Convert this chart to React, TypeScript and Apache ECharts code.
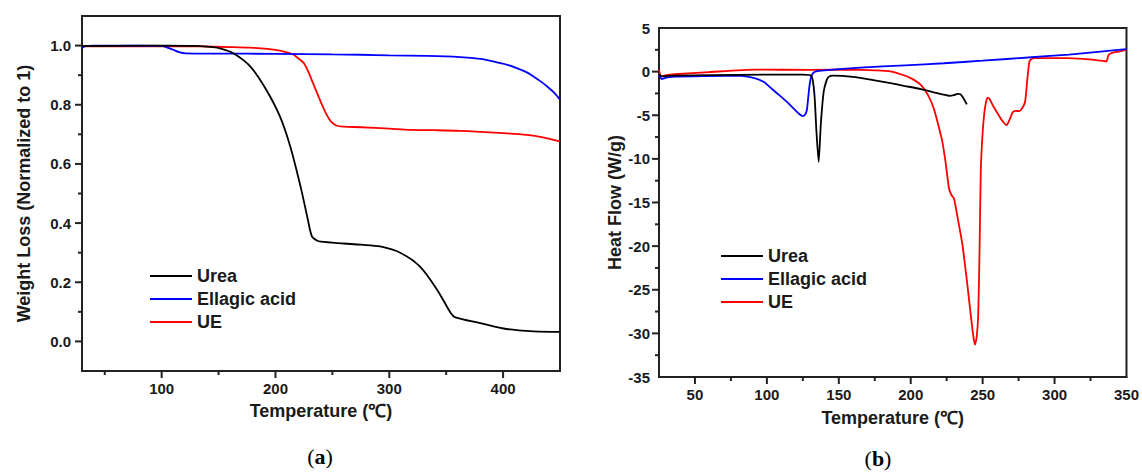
import React, { useEffect, useRef } from "react";
import * as echarts from "echarts";

// ---------- Panel (a): TGA ----------
const tgaUreaT = [30, 60, 100, 130, 145, 152, 163, 178, 192, 204, 213, 222, 228, 232, 236, 240, 260, 275, 292, 310, 327, 342, 354, 358, 380, 403, 427, 450];
const tgaUreaW = [0.998, 0.999, 1.0, 0.999, 0.995, 0.99, 0.974, 0.929, 0.85, 0.76, 0.659, 0.524, 0.42, 0.355, 0.342, 0.337, 0.331, 0.327, 0.321, 0.299, 0.253, 0.175, 0.096, 0.081, 0.062, 0.042, 0.034, 0.032];

const tgaEllagicT = [30, 33, 40, 100, 104, 110, 116, 121, 150, 200, 250, 275, 300, 333, 362, 380, 392, 403, 412, 420, 427, 433, 439, 445, 450];
const tgaEllagicW = [0.992, 0.998, 1.0, 0.999, 0.995, 0.986, 0.977, 0.974, 0.973, 0.972, 0.97, 0.969, 0.967, 0.965, 0.961, 0.955, 0.946, 0.936, 0.924, 0.911, 0.895, 0.879, 0.861, 0.84, 0.817];

const tgaUeT = [30, 100, 134, 160, 178, 193, 204, 210, 216, 220, 225, 229, 233, 236, 239, 242, 245, 249, 254, 260, 275, 300, 319, 340, 362, 392, 421, 435, 450];
const tgaUeW = [0.997, 0.998, 0.997, 0.995, 0.993, 0.989, 0.983, 0.977, 0.969, 0.957, 0.94, 0.91, 0.873, 0.845, 0.817, 0.79, 0.766, 0.742, 0.729, 0.726, 0.724, 0.719, 0.715, 0.714, 0.712, 0.706, 0.698, 0.69, 0.676];

const tgaXLabels = [100, 200, 300, 400];
const tgaXMajorTicks = [100, 200, 300, 400];
const tgaXMinorTicks = [50, 150, 250, 350];
const tgaYMajorTicks = [0, 0.2, 0.4, 0.6, 0.8, 1.0];
const tgaYMinorTicks = [0.1, 0.3, 0.5, 0.7, 0.9];

// ---------- Panel (b): DSC ----------
const dscUreaT = [25, 27, 35, 60, 100, 125, 131, 133, 134.5, 136, 137.5, 139.5, 141.5, 143, 146, 160, 173, 185, 196, 207, 216, 222, 227, 230, 232.5, 234.5, 236, 237.5, 239];
const dscUreaH = [-0.3, -0.55, -0.45, -0.4, -0.35, -0.35, -0.5, -2.5, -7, -10.35, -6, -2.3, -1, -0.6, -0.45, -0.6, -0.95, -1.3, -1.65, -2.0, -2.37, -2.6, -2.78, -2.7, -2.55, -2.6, -2.87, -3.3, -3.75];

const dscEllagicT = [25, 26.7, 30, 36, 60, 80, 92, 98, 103, 109, 115, 119, 122, 124.8, 126.5, 127.8, 128.6, 129.4, 130.3, 131.3, 133, 136, 165, 196, 223, 250, 284, 310, 332, 350];
const dscEllagicH = [-0.4, -0.84, -0.7, -0.57, -0.5, -0.46, -0.77, -1.2, -1.91, -2.75, -3.63, -4.3, -4.78, -5.09, -4.95, -4.4, -3.2, -1.91, -0.9, -0.38, -0.05, 0.08, 0.46, 0.72, 0.96, 1.25, 1.65, 1.95, 2.3, 2.57];

const dscUeT = [25, 26.5, 30, 36, 60, 92, 130, 162, 175, 185, 193, 200, 207, 212, 216, 219, 222, 224.5, 226.6, 228.5, 230.1, 233, 236, 239, 241.8, 243.5, 244.6, 245.8, 246.9, 247.8, 248.7, 249.8, 251, 252.2, 253.4, 255, 257.5, 260.4, 263.5, 266.7, 268.5, 270.9, 273, 275.5, 277.5, 279.5, 281, 282.5, 284, 286, 300, 309, 320, 330, 333.7, 336, 337.5, 340, 345, 350];
const dscUeH = [0.2, -0.57, -0.4, -0.3, -0.05, 0.23, 0.2, 0.23, 0.15, 0.05, -0.3, -0.75, -1.53, -2.7, -4.21, -6, -8.05, -10.7, -13.4, -14.2, -14.55, -17.1, -19.9, -23.9, -27.97, -30.3, -31.3, -30.5, -27.97, -21, -11.5, -7.5, -4.98, -3.6, -2.99, -3.2, -4.0, -4.78, -5.6, -6.13, -5.6, -4.67, -4.5, -4.52, -4.2, -3.45, -1.0, 1.15, 1.45, 1.54, 1.54, 1.54, 1.45, 1.3, 1.23, 1.15, 1.9, 2.15, 2.3, 2.49];

const dscXMajorTicks = [50, 100, 150, 200, 250, 300];
const dscXMinorTicks = [75, 125, 175, 225, 275, 325];
const dscYMajorTicks = [-30, -25, -20, -15, -10, -5, 0];
const dscYMinorTicks = [-32.5, -27.5, -22.5, -17.5, -12.5, -7.5, -2.5, 2.5];

const seriesNames = ["Urea", "Ellagic acid", "UE"];
const seriesColors = ["#000000", "#0000ff", "#ff0000"];

const TGA_X_RANGE = [30, 450];
const TGA_Y_RANGE = [-0.1, 1.1];
const DSC_X_RANGE = [25, 350];
const DSC_Y_RANGE = [-35, 5];

const zip = (xs: number[], ys: number[]) => xs.map((x, i) => [x, ys[i]]);

const FONT = "'Liberation Sans', Arial, Helvetica, sans-serif";
const SERIF = "'Liberation Serif', 'Times New Roman', serif";
const AXIS_COLOR = "#222222";
const TEXT_COLOR = "#1a1a1a";

export default function App() {
  const ref = useRef<HTMLDivElement>(null);

  useEffect(() => {
    if (!ref.current) return;
    const chart = echarts.init(ref.current, undefined, { renderer: "svg" });

    const axisLabelBase = () => ({
      color: TEXT_COLOR,
      fontFamily: FONT,
      fontWeight: "bold",
      fontSize: 15,
    });
    const nameStyle = () => ({
      color: TEXT_COLOR,
      fontFamily: FONT,
      fontWeight: "bold",
      fontSize: 18,
    });
    const axisLine = () => ({ show: true, onZero: false, lineStyle: { color: AXIS_COLOR, width: 2 } });

    const tgaData = [zip(tgaUreaT, tgaUreaW), zip(tgaEllagicT, tgaEllagicW), zip(tgaUeT, tgaUeW)];
    const dscData = [zip(dscUreaT, dscUreaH), zip(dscEllagicT, dscEllagicH), zip(dscUeT, dscUeH)];

    const mkSeries = (data: number[][][], idx: number, smooth: number) =>
      data.map((d, i) => ({
        type: "line",
        name: seriesNames[i],
        xAxisIndex: idx,
        yAxisIndex: idx,
        data: d,
        symbol: "none",
        showSymbol: false,
        smooth,
        lineStyle: { color: seriesColors[i], width: 1.8 },
        itemStyle: { color: seriesColors[i] },
        z: 3 - i,
      }));

    // Tick marks drawn through the axes' own scales (api.coord), pointing outward.
    const tickSeries = (idx: number, values: number[], dir: "x" | "y", anchor: number, len: number) => ({
      type: "custom",
      xAxisIndex: idx,
      yAxisIndex: idx,
      clip: false,
      silent: true,
      z: 10,
      encode: { x: 0, y: 1 },
      data: values.map((v) => (dir === "x" ? [v, anchor] : [anchor, v])),
      renderItem: (_params: any, api: any) => {
        const p = api.coord([api.value(0), api.value(1)]);
        const shape =
          dir === "x"
            ? { x1: p[0], y1: p[1], x2: p[0], y2: p[1] + len }
            : { x1: p[0], y1: p[1], x2: p[0] - len, y2: p[1] };
        return { type: "line", shape, style: { stroke: AXIS_COLOR, lineWidth: 2 } };
      },
    });

    const legendBase = () => ({
      orient: "vertical",
      icon: "rect",
      itemWidth: 42,
      itemHeight: 2,
      itemGap: 5,
      padding: 0,
      textStyle: { color: TEXT_COLOR, fontFamily: FONT, fontWeight: "bold", fontSize: 18 },
      data: seriesNames,
      selectedMode: false,
    });

    const caption = (letter: string, x: number, y: number) => ({
      type: "text",
      x,
      y,
      style: {
        text: `{p|(}{b|${letter}}{p|)}`,
        align: "center",
        verticalAlign: "middle",
        rich: {
          p: { fontFamily: SERIF, fontSize: 22, fill: "#000" },
          b: { fontFamily: SERIF, fontSize: 22, fontWeight: "bold", fill: "#000" },
        },
      },
    });

    chart.setOption({
      animation: false,
      grid: [
        { left: 82, top: 16, width: 478, height: 355, show: true, borderColor: AXIS_COLOR, borderWidth: 2 },
        { left: 659, top: 28, width: 469, height: 349, show: true, borderColor: AXIS_COLOR, borderWidth: 2 },
      ],
      xAxis: [
        {
          type: "value",
          gridIndex: 0,
          min: TGA_X_RANGE[0],
          max: TGA_X_RANGE[1],
          name: "Temperature (℃)",
          nameLocation: "middle",
          nameGap: 31,
          nameTextStyle: nameStyle(),
          axisLine: axisLine(),
          axisTick: { show: false },
          axisLabel: { ...axisLabelBase(), margin: 10, customValues: tgaXLabels },
          splitLine: { show: false },
        },
        {
          type: "value",
          gridIndex: 1,
          min: DSC_X_RANGE[0],
          max: DSC_X_RANGE[1],
          interval: 25,
          name: "Temperature (℃)",
          nameLocation: "middle",
          nameGap: 32,
          nameTextStyle: nameStyle(),
          axisLine: axisLine(),
          axisTick: { show: false },
          axisLabel: {
            ...axisLabelBase(),
            margin: 10,
            formatter: (v: number) => (Math.round(v) % 50 === 0 ? String(Math.round(v)) : ""),
          },
          splitLine: { show: false },
        },
      ],
      yAxis: [
        {
          type: "value",
          gridIndex: 0,
          min: TGA_Y_RANGE[0],
          max: TGA_Y_RANGE[1],
          interval: 0.1,
          name: "Weight Loss (Normalized to 1)",
          nameLocation: "middle",
          nameGap: 49,
          nameTextStyle: nameStyle(),
          axisLine: axisLine(),
          axisTick: { show: false },
          axisLabel: {
            ...axisLabelBase(),
            margin: 11,
            formatter: (v: number) => {
              const k = Math.round(v * 10);
              return k >= 0 && k <= 10 && k % 2 === 0 ? (k / 10).toFixed(1) : "";
            },
          },
          splitLine: { show: false },
        },
        {
          type: "value",
          gridIndex: 1,
          min: DSC_Y_RANGE[0],
          max: DSC_Y_RANGE[1],
          interval: 5,
          name: "Heat Flow (W/g)",
          nameLocation: "middle",
          nameGap: 34,
          nameTextStyle: nameStyle(),
          axisLine: axisLine(),
          axisTick: { show: false },
          axisLabel: { ...axisLabelBase(), margin: 9 },
          splitLine: { show: false },
        },
      ],
      legend: [
        { ...legendBase(), left: 150, top: 267 },
        { ...legendBase(), left: 721, top: 247 },
      ],
      series: [
        ...mkSeries(tgaData, 0, 0.3),
        ...mkSeries(dscData, 1, 0.2),
        tickSeries(0, tgaXMajorTicks, "x", TGA_Y_RANGE[0], 7),
        tickSeries(0, tgaXMinorTicks, "x", TGA_Y_RANGE[0], 4),
        tickSeries(0, tgaYMajorTicks, "y", TGA_X_RANGE[0], 7),
        tickSeries(0, tgaYMinorTicks, "y", TGA_X_RANGE[0], 4),
        tickSeries(1, dscXMajorTicks, "x", DSC_Y_RANGE[0], 7),
        tickSeries(1, dscXMinorTicks, "x", DSC_Y_RANGE[0], 4),
        tickSeries(1, dscYMajorTicks, "y", DSC_X_RANGE[0], 7),
        tickSeries(1, dscYMinorTicks, "y", DSC_X_RANGE[0], 4),
      ],
      graphic: [caption("a", 320, 456), caption("b", 878, 458)],
    });

    return () => chart.dispose();
  }, []);

  return (
    <div
      ref={ref}
      style={{ position: "fixed", left: 0, top: 0, width: 1142, height: 475, background: "#fff" }}
    />
  );
}
